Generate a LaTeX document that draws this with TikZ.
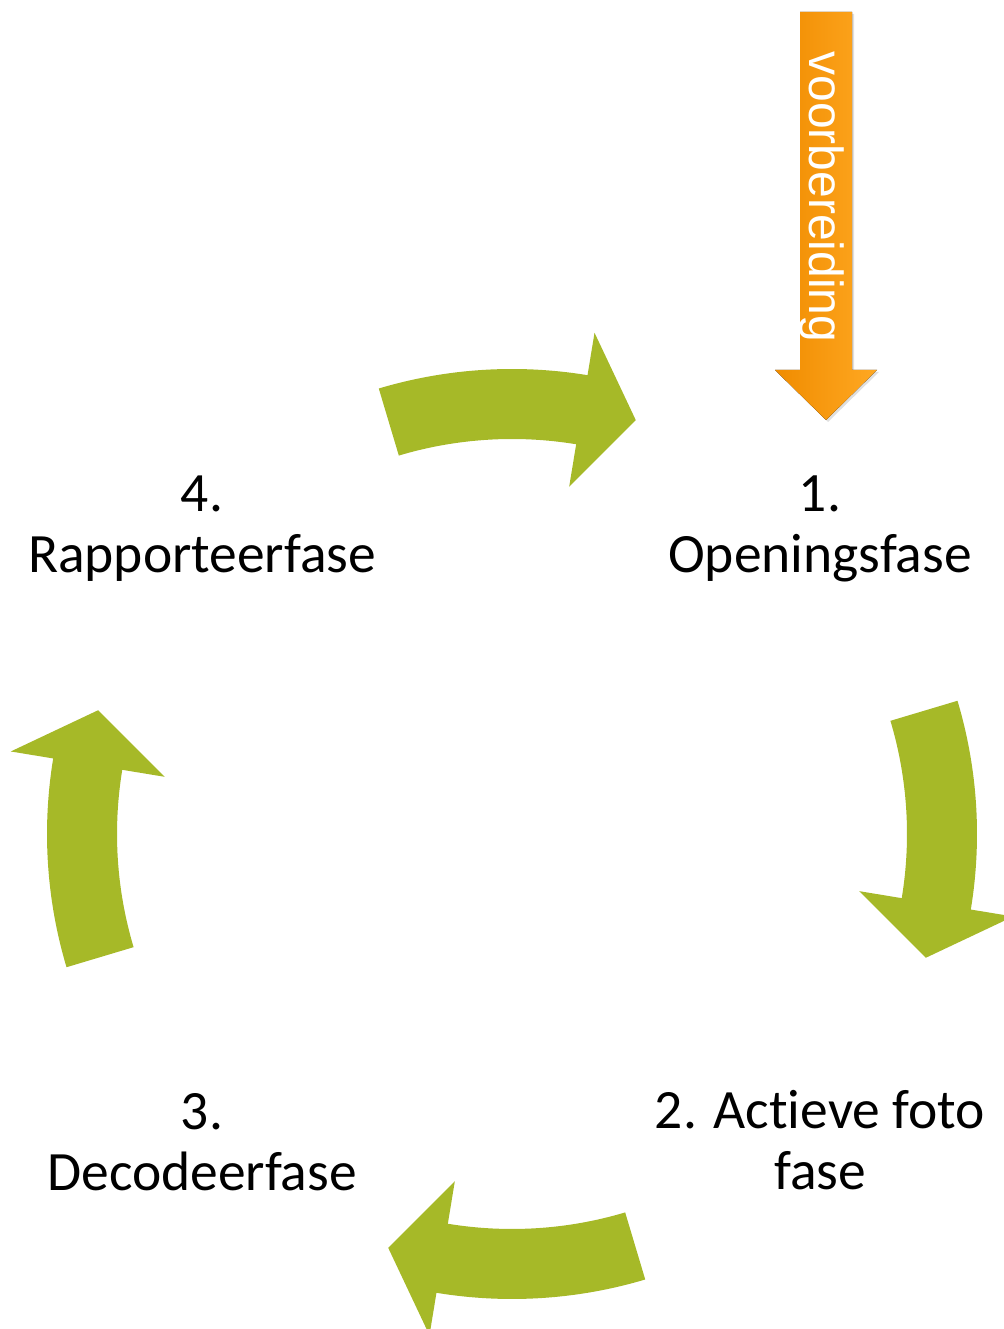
\documentclass[tikz,border=0pt]{standalone}
\usepackage{fontspec}
\setmainfont[Ligatures=NoCommon]{Carlito}
\newfontfamily\prepfont{Liberation Sans}
\usetikzlibrary{shadows}
\definecolor{cyclegreen}{RGB}{166,185,40}
\definecolor{prepdark}{RGB}{240,140,0}
\definecolor{preplight}{RGB}{255,168,34}
\begin{document}
\begin{tikzpicture}[x=1pt,y=1pt,cyc/.style={fill=cyclegreen},phase/.style={align=center,inner sep=0pt,font=\fontsize{55.5}{61}\selectfont}]
\useasboundingbox (0,0) rectangle (1003,1329);
% the four phases
\node[phase] (open) at (820,800) {1.\\Openingsfase};
\node[phase] (active) at (820,189) {2. Actieve foto\\fase};
\node[phase] (decode) at (202,187) {3.\\Decodeerfase};
\node[phase] (report) at (202,800) {4.\\Rapporteerfase};
% cycle arrows, clockwise
\begin{scope}[shift={(512,495)}]
\foreach \c in {90,0,-90,180}
\fill[cyc] ({\c+16.65}:465pt) arc[start angle=\c+16.65,end angle=\c-9.35,radius=465pt] -- ({\c-9.35}:508pt) -- ({\c-16.65}:432pt) -- ({\c-9.35}:352pt) -- ({\c-9.35}:395pt) arc[start angle=\c-9.35,end angle=\c+16.65,radius=395pt] -- cycle;
\end{scope}
% preparation arrow
\fill[left color=prepdark,right color=preplight,drop shadow={shadow xshift=2pt,shadow yshift=-2pt,opacity=.25}] (800,1317) -- (852,1317) -- (852,959) -- (877,959) -- (826,909) -- (775,959) -- (800,959) -- cycle;
\node[rotate=-90,text=white,inner sep=0pt,font=\prepfont\fontsize{48}{52}\selectfont] (prep) at (822,1132) {voorbereiding};
\end{tikzpicture}
\end{document}
